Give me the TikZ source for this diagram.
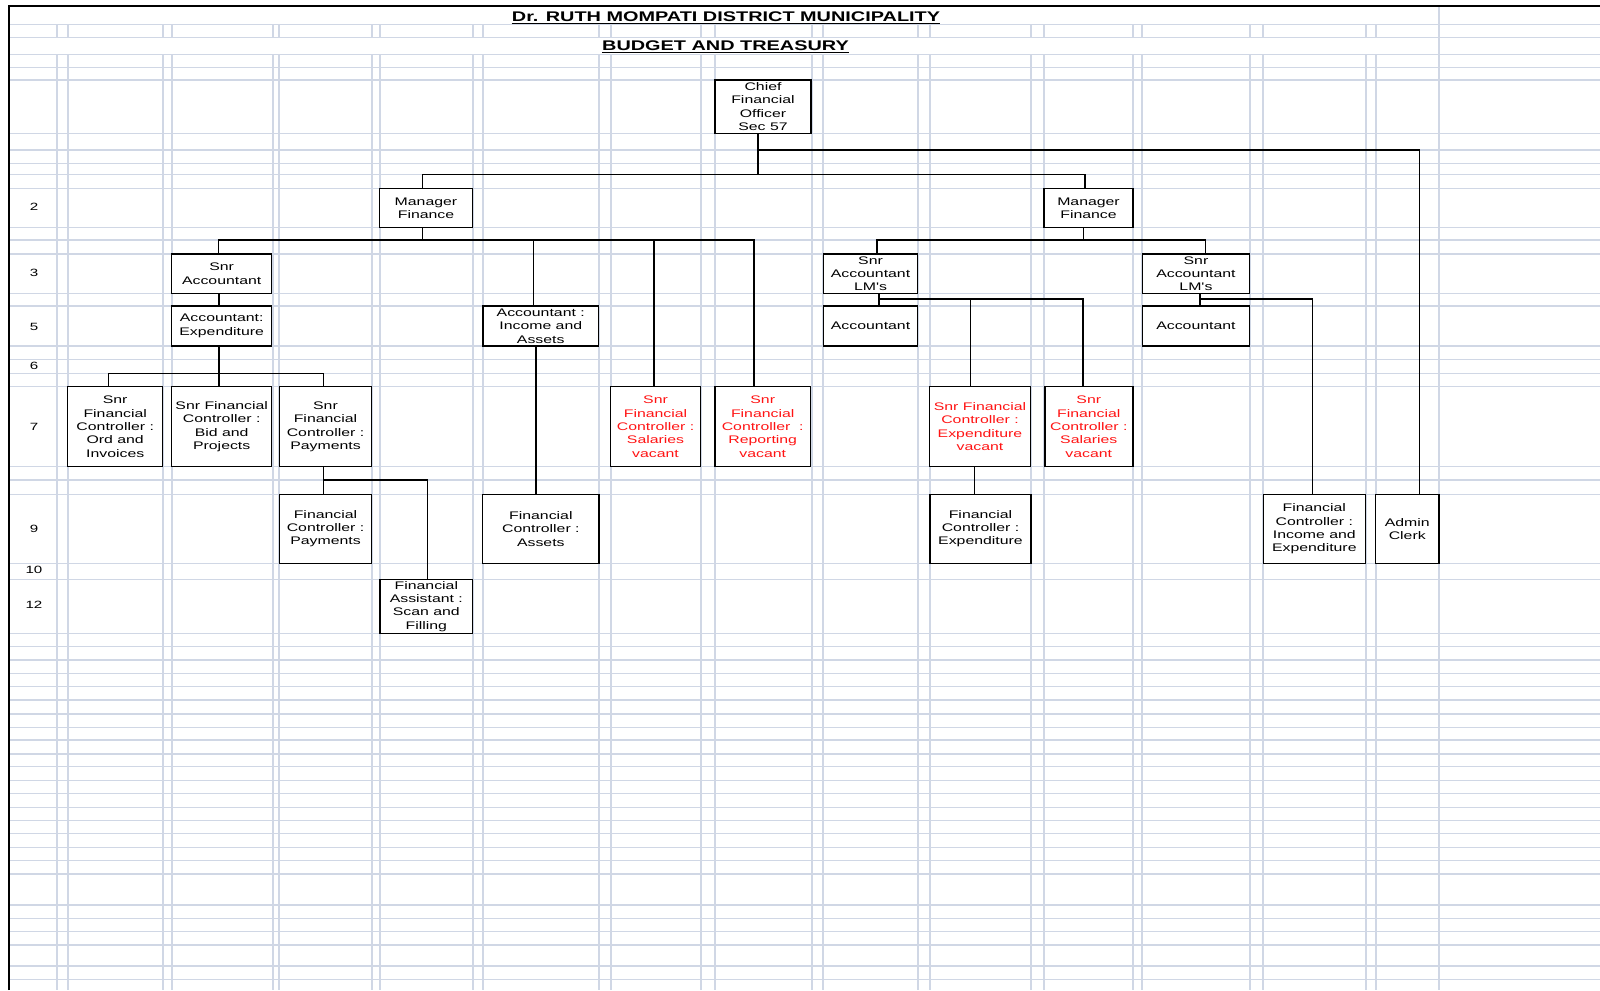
\documentclass[tikz,border=0pt]{standalone}
\usepackage{fontspec}
\setmainfont{Liberation Sans}
\newfontfamily\boxfont{Liberation Sans}[FakeStretch=1.44]
\newfontfamily\ttlfont{Liberation Sans}[FakeStretch=1.42]
\usetikzlibrary{calc}
\definecolor{gridc}{RGB}{208,215,229}
\definecolor{vac}{RGB}{255,20,20}
\newcommand\orgbox[7][black]{%
  \node[obox,text=#1,minimum width={(#5-#3)*1pt},minimum height={(#6-#4)*1pt}] (#2) at ({(#3+#5)/2},{(#4+#6)/2}) {#7};}
\tikzset{
  obox/.style={draw=black, fill=white, line width=1.5pt, inner sep=0pt, align=center,
    font=\boxfont\fontsize{11}{13.3}\selectfont},
  conn/.style={line width=1.4pt, draw=black},
  gridh/.style={line width=1.2pt, draw=gridc},
  gridv/.style={line width=1.5pt, draw=gridc},
  ttl/.style={inner sep=0pt, font=\ttlfont\bfseries\fontsize{14}{16}\selectfont},
  rowlab/.style={inner sep=0pt, font=\boxfont\fontsize{10.5}{12}\selectfont}
}
\begin{document}
\begin{tikzpicture}[x=1pt,y=-1pt]
\useasboundingbox[fill=white] (0,0) rectangle (1600,990);
% grid
\foreach \y in {24.3,37.3,54.3,67.3,80,133.3,150,163.3,174.3,188.3,227.7,240,254,293.3,306,346,359.3,373.3,386.7,466.7,480,494.3,563.3,579.3,633.3,646.7,660,673.3,686.7,700,714,727.3,740,754,766.7,780.3,793.3,807.3,820.3,833.7,847.3,860.7,874,905,918.3,931.7,945,966,979.3}
  {\draw[gridh] (10,\y) -- (1600,\y);}
\foreach \x in {57,68,163,172,273,279,372,380,473,483,599,611,701,715,812,823,918,930,1031,1044,1133,1142,1250,1263,1366,1376}
  {\draw[gridv] (\x,24.3) -- (\x,37.3); \draw[gridv] (\x,54.3) -- (\x,990);}
\draw[gridv] (1439,6) -- (1439,990);
\draw[line width=2.2pt] (9,990) -- (9,6) -- (1600,6);
% titles
\node[ttl, anchor=base] (t1) at (726,21.7) {Dr. RUTH MOMPATI DISTRICT MUNICIPALITY};
\draw[line width=1.1pt] ([yshift=-1.4pt]t1.base west) -- ([yshift=-1.4pt]t1.base east);
\node[ttl, anchor=base] (t2) at (725.5,51) {BUDGET AND TREASURY};
\draw[line width=1.1pt] ([yshift=-1.4pt]t2.base west) -- ([yshift=-1.4pt]t2.base east);
% row labels
\node[rowlab] (r2) at (34,207) {2};
\node[rowlab] (r3) at (34,273) {3};
\node[rowlab] (r5) at (34,327) {5};
\node[rowlab] (r6) at (34,366) {6};
\node[rowlab] (r7) at (34,426.5) {7};
\node[rowlab] (r9) at (34,528.5) {9};
\node[rowlab] (r10) at (34,570) {10};
\node[rowlab] (r12) at (34,605) {12};
% boxes
\orgbox{cfo}{715}{80}{811}{133.3}{Chief\\Financial\\Officer\\Sec 57}
\orgbox{mfl}{379.3}{188.3}{472.7}{227.7}{Manager\\Finance}
\orgbox{mfr}{1044}{188.3}{1133}{227.7}{Manager\\Finance}
\orgbox{sa1}{171.7}{254}{271.7}{293.3}{Snr\\Accountant}
\orgbox{ae}{171.7}{306}{271.7}{346}{Accountant:\\Expenditure}
\orgbox{aia}{482.9}{306}{598.6}{346}{Accountant :\\Income and\\Assets}
\orgbox{sal1}{823.6}{254}{917.5}{293.3}{Snr\\Accountant\\LM's}
\orgbox{acc1}{823.6}{306}{917.5}{346}{Accountant}
\orgbox{sal2}{1142.4}{254}{1249.5}{293.3}{Snr\\Accountant\\LM's}
\orgbox{acc2}{1142.4}{306}{1249.5}{346}{Accountant}
\orgbox{sfo}{67.7}{386.7}{162.7}{466.7}{Snr\\Financial\\Controller :\\Ord and\\Invoices}
\orgbox{sfb}{171.7}{386.7}{271.7}{466.7}{Snr Financial\\Controller :\\Bid and\\Projects}
\orgbox{sfp}{279.3}{386.7}{371.7}{466.7}{Snr\\Financial\\Controller :\\Payments}
\orgbox[vac]{sfs1}{610.7}{386.7}{700.4}{466.7}{Snr\\Financial\\Controller :\\Salaries\\vacant}
\orgbox[vac]{sfr}{715}{386.7}{810.4}{466.7}{Snr\\Financial\\Controller\ \ :\\Reporting\\vacant}
\orgbox[vac]{sfe}{929.3}{386.7}{1030.7}{466.7}{Snr Financial\\Controller :\\Expenditure\\vacant}
\orgbox[vac]{sfs2}{1044.8}{386.7}{1132.8}{466.7}{Snr\\Financial\\Controller :\\Salaries\\vacant}
\orgbox{fcp}{279.3}{494.3}{371.7}{563.3}{Financial\\Controller :\\Payments}
\orgbox{fca}{482.7}{494.3}{599}{563.3}{Financial\\Controller :\\Assets}
\orgbox{fce}{930}{494.3}{1031}{563.3}{Financial\\Controller :\\Expenditure}
\orgbox{fcie}{1263.3}{494.3}{1365.3}{563.3}{Financial\\Controller :\\Income and\\Expenditure}
\orgbox{admin}{1375.5}{494.3}{1439}{563.3}{Admin\\Clerk}
\orgbox{fa}{380}{579.3}{472.7}{633.3}{Financial\\Assistant :\\Scan and\\Filling}
% connectors
\begin{scope}[on background layer/.style={}]
\coordinate (cfoA) at (758,150);
\coordinate (cfoB) at (758,174.3);
\draw[conn] (cfoB |- cfo.south) -- (cfoB);
\draw[conn] ([xshift=12.5pt]admin.north) |- (cfoA);
\draw[conn] ([xshift=-3.3pt]mfl.north) |- (cfoB) -| ([xshift=-3.5pt]mfr.north);
\coordinate (busL) at (422.7,240);
\draw[conn] (busL |- mfl.south) -- (busL);
\draw[conn] ([xshift=-3.4pt]sa1.north) |- (busL);
\draw[conn] ([xshift=-7.1pt]aia.north) |- (busL);
\draw[conn] ([xshift=-1.5pt]sfs1.north) |- (busL);
\draw[conn] ([xshift=-8.7pt]sfr.north) |- (busL);
\coordinate (busR) at (1083.4,240);
\draw[conn] (busR |- mfr.south) -- (busR);
\draw[conn] ([xshift=6.5pt]sal1.north) |- (busR);
\draw[conn] ([xshift=9.5pt]sal2.north) |- (busR);
\draw[conn] ([xshift=-2.7pt]sa1.south) coordinate (t1a) -- (t1a |- ae.north);
\coordinate (busE) at (219,373.3);
\draw[conn] (busE |- ae.south) -- (busE);
\draw[conn] ([xshift=-6.9pt]sfo.north) |- (busE);
\draw[conn] (busE |- sfb.north) -- (busE);
\draw[conn] ([xshift=-2.2pt]sfp.north) |- (busE);
\coordinate (busP) at (323.3,480);
\draw[conn] (busP |- sfp.south) -- (busP |- fcp.north);
\draw[conn] ([xshift=1.3pt]fa.north) |- (busP);
\coordinate (colA) at (536,0);
\draw[conn] (colA |- aia.south) -- (colA |- fca.north);
\coordinate (busS1) at (879,299);
\draw[conn] (busS1 |- sal1.south) -- (busS1 |- acc1.north);
\draw[conn] ([xshift=-9.6pt]sfe.north) |- (busS1);
\draw[conn] ([xshift=-5.8pt]sfs2.north) |- (busS1);
\coordinate (colE) at (974.3,0);
\draw[conn] (colE |- sfe.south) -- (colE |- fce.north);
\coordinate (busS2) at (1199.8,299);
\draw[conn] (busS2 |- sal2.south) -- (busS2 |- acc2.north);
\draw[conn] ([xshift=-2pt]fcie.north) |- (busS2);
\end{scope}
\end{tikzpicture}
\end{document}
